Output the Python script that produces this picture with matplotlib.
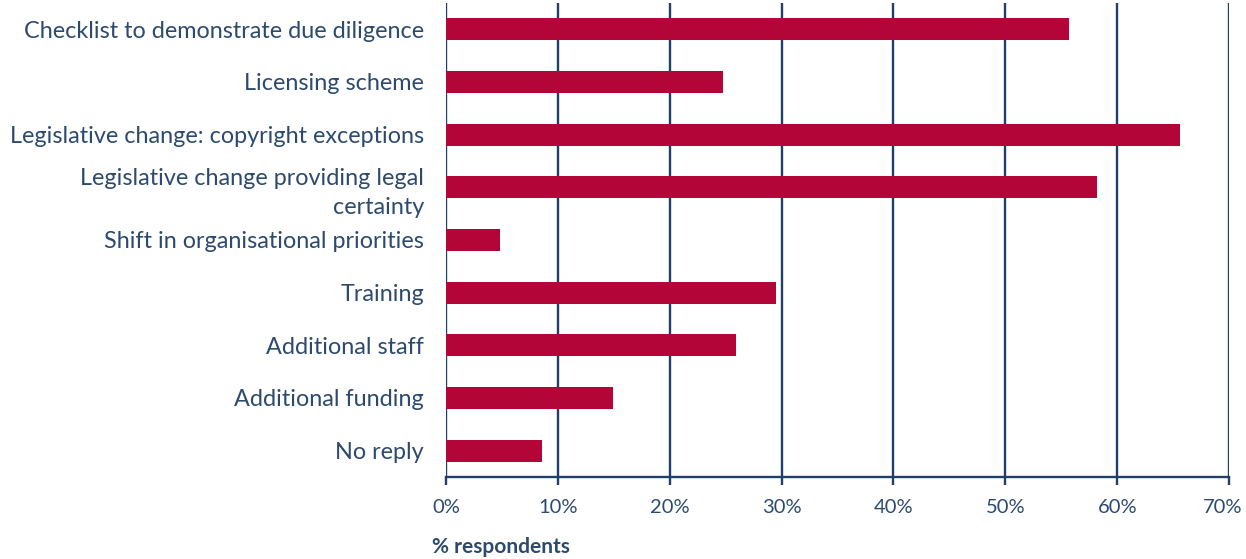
import matplotlib.pyplot as plt
import matplotlib.transforms as mtransforms
import numpy as np

# Data
categories = [
    'Checklist to demonstrate due diligence',
    'Licensing scheme',
    'Legislative change: copyright exceptions',
    'Legislative change providing legal\ncertainty',
    'Shift in organisational priorities',
    'Training',
    'Additional staff',
    'Additional funding',
    'No reply',
]
values = [55.7, 24.8, 65.6, 58.2, 4.8, 29.5, 25.9, 14.9, 8.6]
xticks = [0, 10, 20, 30, 40, 50, 60, 70]

bar_color = '#B30537'
grid_color = '#1F3F66'
text_color = '#2C4A6E'

plt.rcParams['font.family'] = ['Lato', 'DejaVu Sans']

fig = plt.figure(figsize=(12.46, 5.59), dpi=100)
ax = fig.add_axes([0.358, 0.1467, 0.6284, 0.848])

y = np.arange(len(categories))
ax.barh(y, values, height=0.42, color=bar_color, zorder=3)

ax.set_xlim(0, 70)
ax.set_ylim(len(categories) - 0.5, -0.5)
ax.set_xticks(xticks)
ax.set_xticklabels([f'{t}%' for t in xticks])
ax.set_yticks(y)
ax.set_yticklabels(categories, ha='right', linespacing=1.45)

ax.xaxis.grid(True, color=grid_color, linewidth=1.7, zorder=1)
ax.yaxis.grid(False)
for s in ['top', 'right', 'left']:
    ax.spines[s].set_visible(False)
ax.spines['bottom'].set_color(grid_color)
ax.spines['bottom'].set_linewidth(1.7)

ax.tick_params(axis='x', colors=grid_color, length=6, width=1.7, labelsize=14.5,
               labelcolor=text_color, pad=10)
ax.tick_params(axis='y', length=0, labelsize=16.8, labelcolor=text_color, pad=15.8)

# nudge the last tick label a little left so it stays inside the figure
last = ax.get_xticklabels()[-1]
last.set_transform(last.get_transform() +
                   mtransforms.ScaledTranslation(-6 / 100, 0, fig.dpi_scale_trans))

fig.text(432 / 1246, 1 - 547 / 559, '% respondents', fontsize=15, fontweight='bold',
         color=text_color, ha='left', va='center')

fig.savefig('out.png', dpi=100)
